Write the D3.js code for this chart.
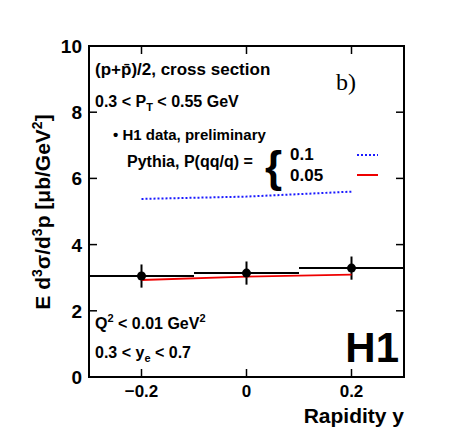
<!DOCTYPE html><html><head><script src="https://cdn.jsdelivr.net/npm/d3@7"></script>
<style>body{margin:0;background:#fff}text{font-family:"Liberation Sans",Arial,sans-serif;font-weight:bold}</style></head><body>
<svg id="c" width="449" height="436"></svg>
<script>
const rapidity=[-0.2,0,0.2];
const dataVals=[3.05,3.14,3.29];
const dataErr=[0.35,0.35,0.35];
const binLo=[-0.3,-0.1,0.1];
const binHi=[-0.1,0.1,0.3];
const pythia01=[5.38,5.45,5.6];
const pythia005=[2.93,3.03,3.09];
const xTicks=[-0.2,0,0.2];
const yTicks=[0,2,4,6,8,10];
const svg=d3.select("#c");
const L=89,R=404,T=46,B=377;
const x=d3.scaleLinear().domain([-0.3,0.3]).range([L,R]);
const y=d3.scaleLinear().domain([0,10]).range([B,T]);
svg.append("rect").attr("x",L).attr("y",T).attr("width",R-L).attr("height",B-T).attr("fill","none").attr("stroke","#000").attr("stroke-width",2);
const tk=8;
xTicks.forEach(v=>{svg.append("line").attr("x1",x(v)).attr("x2",x(v)).attr("y1",B).attr("y2",B-tk).attr("stroke","#000").attr("stroke-width",1.5);
 svg.append("line").attr("x1",x(v)).attr("x2",x(v)).attr("y1",T).attr("y2",T+tk).attr("stroke","#000").attr("stroke-width",1.5);
 svg.append("text").attr("x",x(v)).attr("y",B+20).attr("text-anchor","middle").attr("font-size",17).text(v===0?"0":d3.format(".1f")(v));});
yTicks.forEach(v=>{svg.append("line").attr("x1",L).attr("x2",L+tk).attr("y1",y(v)).attr("y2",y(v)).attr("stroke","#000").attr("stroke-width",1.5);
 svg.append("line").attr("x1",R).attr("x2",R-tk).attr("y1",y(v)).attr("y2",y(v)).attr("stroke","#000").attr("stroke-width",1.5);
 svg.append("text").attr("x",L-7).attr("y",y(v)+7).attr("text-anchor","end").attr("font-size",19).text(v);});
const line=d3.line().x((d,i)=>x(rapidity[i])).y(d=>y(d));
svg.append("path").attr("d",line(pythia01)).attr("fill","none").attr("stroke","#1a1aff").attr("stroke-width",2).attr("stroke-dasharray","2,2");
rapidity.forEach((r,i)=>{
 svg.append("line").attr("x1",x(binLo[i])).attr("x2",x(binHi[i])).attr("y1",y(dataVals[i])).attr("y2",y(dataVals[i])).attr("stroke","#000").attr("stroke-width",2);
 svg.append("line").attr("x1",x(r)).attr("x2",x(r)).attr("y1",y(dataVals[i]-dataErr[i])).attr("y2",y(dataVals[i]+dataErr[i])).attr("stroke","#000").attr("stroke-width",2);
});
svg.append("path").attr("d",line(pythia005)).attr("fill","none").attr("stroke","#e00").attr("stroke-width",1.8);
rapidity.forEach((r,i)=>svg.append("circle").attr("cx",x(r)).attr("cy",y(dataVals[i])).attr("r",4.5).attr("fill","#000"));
const t=(xx,yy,s,txt)=>svg.append("text").attr("x",xx).attr("y",yy).attr("font-size",s).html(txt);
t(95,75,17,"(p+<tspan>p̄</tspan>)/2, cross section");
svg.append("text").attr("x",336).attr("y",90).attr("font-size",24).style("font-weight","normal").style("font-family","Liberation Serif,serif").text("b)");
t(95,107,16,"0.3 &lt; P<tspan dy='4' font-size='11'>T</tspan><tspan dy='-4'> &lt; 0.55 GeV</tspan>");
t(113,140,15,"• H1 data, preliminary");
t(127,167,16,"Pythia, P(qq/q) =");
svg.append("text").attr("x",265).attr("y",182).attr("font-size",44).text("{");
t(290,160,17,"0.1"); t(290,181,17,"0.05");
svg.append("line").attr("x1",357).attr("x2",378).attr("y1",155).attr("y2",155).attr("stroke","#1a1aff").attr("stroke-width",2).attr("stroke-dasharray","2,2");
svg.append("line").attr("x1",357).attr("x2",378).attr("y1",175).attr("y2",175).attr("stroke","#e00").attr("stroke-width",2);
t(95,329,16,"Q<tspan dy='-7' font-size='11'>2</tspan><tspan dy='7'> &lt; 0.01 GeV</tspan><tspan dy='-7' font-size='11'>2</tspan>");
t(95,358,16,"0.3 &lt; y<tspan dy='4' font-size='11'>e</tspan><tspan dy='-4'> &lt; 0.7</tspan>");
svg.append("text").attr("x",399).attr("y",362).attr("text-anchor","end").attr("font-size",42).text("H1");
svg.append("text").attr("x",404).attr("y",423).attr("text-anchor","end").attr("font-size",21).text("Rapidity y");
svg.append("text").attr("transform","translate(50,212) rotate(-90)").attr("text-anchor","middle").attr("font-size",21)
 .html("E d<tspan dy='-8' font-size='14'>3</tspan><tspan dy='8'>σ/d</tspan><tspan dy='-8' font-size='14'>3</tspan><tspan dy='8'>p  [μb/GeV</tspan><tspan dy='-8' font-size='14'>2</tspan><tspan dy='8'>]</tspan>");
</script></body></html>
